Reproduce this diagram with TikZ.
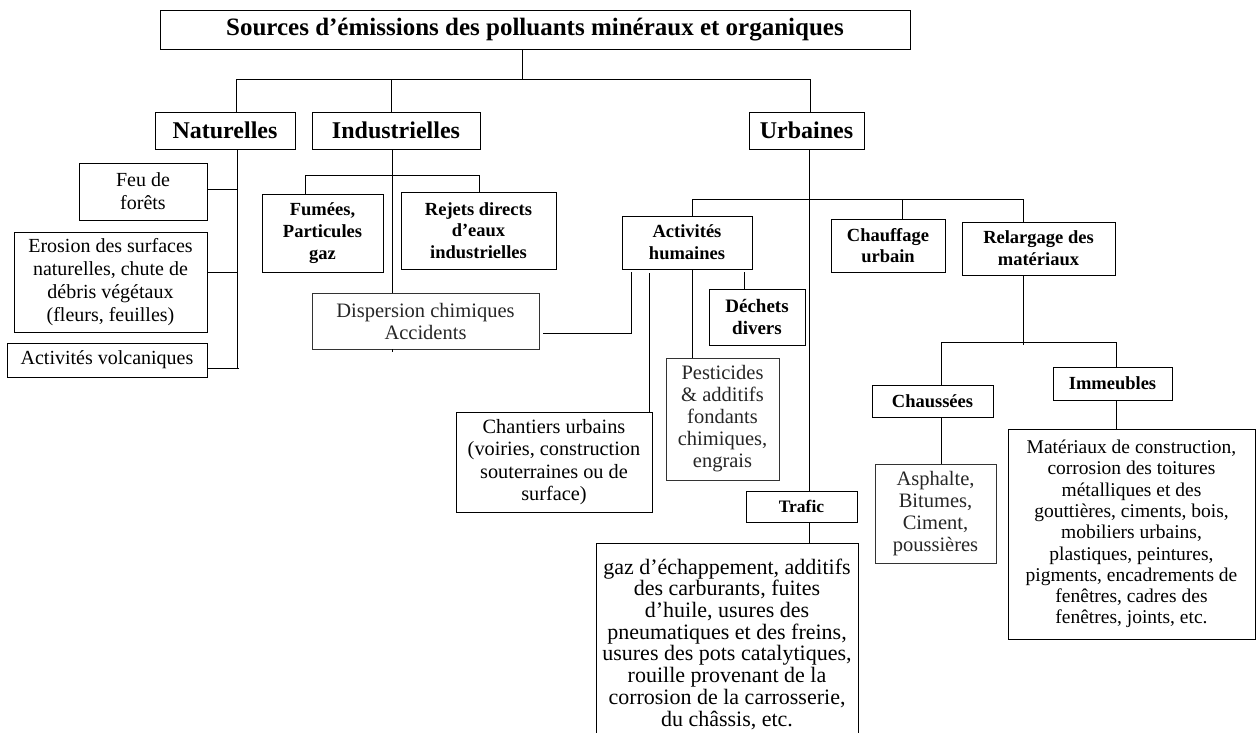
\documentclass[tikz,border=0pt]{standalone}
\usepackage{fontspec}
\setmainfont{Liberation Serif}
\tikzset{
  bx/.style={draw, line width=0.9pt, inner sep=0pt, align=center},
  ttl/.style={bx, font=\fontsize{25}{28}\selectfont\bfseries},
  bA/.style={bx, font=\fontsize{24}{27}\selectfont\bfseries},
  bB/.style={bx, font=\fontsize{18.5}{21.7}\selectfont\bfseries},
  rA/.style={bx, font=\fontsize{20}{23}\selectfont},
  rG/.style={bx, draw=black!80, text=black!85, font=\fontsize{20.5}{22}\selectfont},
  ln/.style={line width=1pt},
}
\begin{document}
\begin{tikzpicture}[x=1pt,y=-1pt]
\useasboundingbox (0,0) rectangle (1256,733);
% nodes
\node[ttl, minimum width=750, minimum height=39] (title) at (535,29.5) {Sources d’émissions des polluants minéraux et organiques};
\node[bA, minimum width=140, minimum height=37] (nat) at (225,130.5) {Naturelles};
\node[bA, minimum width=168, minimum height=37] (ind) at (396,130.5) {Industrielles};
\node[bA, minimum width=115, minimum height=37] (urb) at (806.5,130.5) {Urbaines};
\node[rA, minimum width=128, minimum height=57] (feu) at (143,191.5) {Feu de\\forêts};
\node[rA, minimum width=193, minimum height=100] (ero) at (110.5,282) {Erosion des surfaces\\naturelles, chute de\\débris végétaux\\(fleurs, feuilles)};
\node[rA, minimum width=200, minimum height=34] (vol) at (107,360) {Activités volcaniques};
\node[bB, minimum width=121, minimum height=78] (fum) at (322.5,233) {Fumées,\\Particules\\gaz};
\node[bB, minimum width=155, minimum height=77] (rej) at (478.5,230.5) {Rejets directs\\d’eaux\\industrielles};
\node[rG, minimum width=227, minimum height=56] (dis) at (425.5,321) {Dispersion chimiques\\Accidents};
\node[bB, minimum width=130, minimum height=53] (act) at (687,242.5) {Activités\\humaines};
\node[bB, minimum width=114, minimum height=53] (chf) at (888,245.5) {Chauffage\\urbain};
\node[bB, minimum width=153, minimum height=53] (rel) at (1038.5,248.5) {Relargage des\\matériaux};
\node[bB, font=\fontsize{19}{22}\selectfont\bfseries, minimum width=96, minimum height=56] (dec) at (757,317) {Déchets\\divers};
\node[rA, font=\fontsize{20.3}{22.3}\selectfont, minimum width=196, minimum height=100] (cha) at (554,462) {Chantiers urbains\\(voiries, construction\\souterraines ou de\\surface)};
\node[rG, minimum width=113, minimum height=122] (pes) at (722.5,419) {Pesticides\\\& additifs\\fondants\\chimiques,\\engrais};
\node[bB, font=\fontsize{17.5}{20}\selectfont\bfseries, minimum width=111, minimum height=31] (tra) at (801.5,506.5) {Trafic};
\node[rA, font=\fontsize{22}{21.7}\selectfont, minimum width=262, minimum height=202] (trb) at (727,644) {gaz d’échappement, additifs\\des carburants, fuites\\d’huile, usures des\\pneumatiques et des freins,\\usures des pots catalytiques,\\rouille provenant de la\\corrosion de la carrosserie,\\du châssis, etc.};
\node[bB, minimum width=121, minimum height=32] (chs) at (932.5,401) {Chaussées};
\node[bB, minimum width=119, minimum height=33] (imm) at (1112.5,383.5) {Immeubles};
\node[rG, minimum width=121, minimum height=99] (asp) at (935.5,513.5) {Asphalte,\\Bitumes,\\Ciment,\\poussières};
\node[rA, font=\fontsize{19.5}{21.3}\selectfont, minimum width=247, minimum height=210] (mat) at (1131.5,534) {Matériaux de construction,\\corrosion des toitures\\métalliques et des\\gouttières, ciments, bois,\\mobiliers urbains,\\plastiques, peintures,\\pigments, encadrements de\\fenêtres, cadres des\\fenêtres, joints, etc.};
% junction coordinates
\coordinate (j0) at (522,80);
\coordinate (hL) at (236,80);
\coordinate (hI) at (391,80);
\coordinate (hR) at (810,80);
\coordinate (nv) at (237,368);
\coordinate (iv) at (392,176);
\coordinate (fL) at (305,176);
\coordinate (fR) at (479,176);
\coordinate (da) at (631,272);
\coordinate (uL) at (692,199);
\coordinate (uC) at (902,199);
\coordinate (uR) at (1023,199);
\coordinate (uv) at (809,199);
\coordinate (ac1) at (649,273);
\coordinate (ac3) at (744,272);
\coordinate (rv) at (1023,345);
\coordinate (rL) at (941,342);
\coordinate (rR) at (1116,342);
% connectors
\draw[ln] (title.south -| j0) -- (j0);
\draw[ln] (hL |- nat.north) -- (hL) -- (hR) -- (hR |- urb.north);
\draw[ln] (hI) -- (hI |- ind.north);
\draw[ln] (nv |- nat.south) -- (nv);
\draw[ln] ([yshift=2pt]feu.east) -- ([yshift=2pt]feu.east -| nv);
\draw[ln] ([yshift=10pt]ero.east) -- ([yshift=10pt]ero.east -| nv);
\draw[ln] ([yshift=-8pt]vol.east) -- ([yshift=-8pt,xshift=32pt]vol.east);
\draw[ln] (iv |- ind.south) -- (iv |- dis.north);
\draw[ln] (iv |- dis.south) -- ([yshift=-3pt]iv |- dis.south);
\draw[ln] (fL |- fum.north) -- (fL) -- (fR) -- (fR |- rej.north);
\draw[ln] ([xshift=4pt,yshift=-12pt]dis.east) -| (da);
\draw[ln] (uL |- act.north) -- (uL) -- (uR) -- (uR |- rel.north);
\draw[ln] (uC) -- (uC |- chf.north);
\draw[ln] (uv |- urb.south) -- (uv |- tra.north);
\draw[ln] (uv |- tra.south) -- (uv |- trb.north);
\draw[ln] (ac1) -- (ac1 |- cha.north);
\draw[ln] (uL |- act.south) -- (uL |- pes.north);
\draw[ln] (ac3) -- (ac3 |- dec.north);
\draw[ln] (rv |- rel.south) -- (rv);
\draw[ln] (rL |- chs.north) -- (rL) -- (rR) -- (rR |- imm.north);
\draw[ln] (rL |- chs.south) -- (rL |- asp.north);
\draw[ln] (rR |- imm.south) -- (rR |- mat.north);
\end{tikzpicture}
\end{document}
